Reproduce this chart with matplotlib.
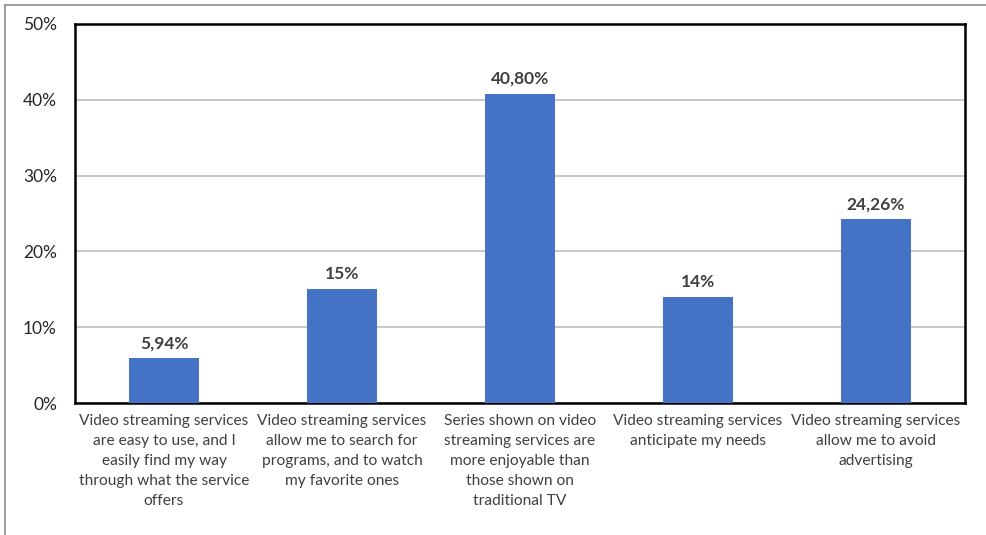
import matplotlib.pyplot as plt
from matplotlib.lines import Line2D

categories = [
    "Video streaming services\nare easy to use, and I\neasily find my way\nthrough what the service\noffers",
    "Video streaming services\nallow me to search for\nprograms, and to watch\nmy favorite ones",
    "Series shown on video\nstreaming services are\nmore enjoyable than\nthose shown on\ntraditional TV",
    "Video streaming services\nanticipate my needs",
    "Video streaming services\nallow me to avoid\nadvertising",
]
values = [5.94, 15, 40.8, 14, 24.26]
value_labels = ["5,94%", "15%", "40,80%", "14%", "24,26%"]
y_ticks = [0, 10, 20, 30, 40, 50]
y_tick_labels = ["0%", "10%", "20%", "30%", "40%", "50%"]

plt.rcParams['font.family'] = ['Lato', 'DejaVu Sans']

W, H = 986, 535
fig = plt.figure(figsize=(W / 100, H / 100), dpi=100)
ax = fig.add_axes([75 / W, 1 - 403 / H, (965 - 75) / W, (403 - 24) / H])

x = list(range(len(values)))
ax.bar(x, values, width=0.39, color='#4472C4', zorder=3)
for xi, v, lab in zip(x, values, value_labels):
    ax.annotate(lab, (xi, v), xytext=(0, 5), textcoords='offset points',
                ha='center', va='bottom', fontsize=12.5, fontweight='bold',
                color='#404040')

ax.set_xlim(-0.5, len(values) - 0.5)
ax.set_ylim(0, 50)
ax.set_yticks(y_ticks)
ax.set_yticklabels(y_tick_labels, fontsize=12.5, color='#262626')
ax.set_xticks(x)
ax.set_xticklabels(categories, fontsize=11.2, color='#404040', linespacing=1.55)
ax.tick_params(axis='both', length=0)
ax.tick_params(axis='y', pad=13)
ax.tick_params(axis='x', pad=8)
ax.yaxis.grid(True, color='#BFBFBF', linewidth=1.2, zorder=0)
for s in ax.spines.values():
    s.set_linewidth(1.8)
    s.set_color('black')

# outer border of the cropped chart area
fig.add_artist(Line2D([5 / W, 1], [1 - 5 / H, 1 - 5 / H], color='#8c8c8c', linewidth=1.2))
fig.add_artist(Line2D([5 / W, 5 / W], [0, 1 - 5 / H], color='#8c8c8c', linewidth=1.2))

fig.savefig('out.png', dpi=100)
